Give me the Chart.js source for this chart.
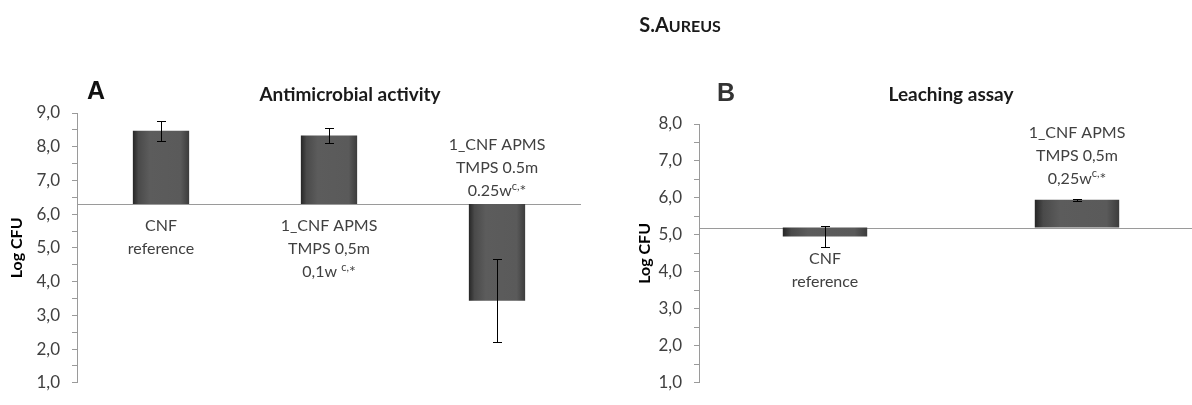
<!DOCTYPE html>
<html>
<head>
<meta charset="utf-8">
<script src="https://cdn.jsdelivr.net/npm/chart.js@4.4.1/dist/chart.umd.min.js"></script>
<style>
  body { margin: 0; width: 1192px; height: 405px; overflow: hidden; position: relative; background: #fff; font-family: Lato, "Open Sans", sans-serif; }
  canvas { position: absolute; top: 0; }
  .txt { position: absolute; white-space: nowrap; color: #1a1a1a; }
</style>
</head>
<body>
<canvas id="chartA" width="600" height="405" style="left:0"></canvas>
<canvas id="chartB" width="620" height="405" style="left:600px"></canvas>

<div class="txt" style="left:680px;top:12px;transform:translateX(-50%);font-weight:700;font-size:20px;">S.A<span style="font-size:16px">UREUS</span></div>
<div class="txt" style="left:87px;top:76px;font-family:'Liberation Sans',Arial,sans-serif;font-weight:700;font-size:25px;color:#111">A</div>
<div class="txt" style="left:717px;top:78px;font-family:'Liberation Sans',Arial,sans-serif;font-weight:700;font-size:25px;color:#333">B</div>
<div class="txt" style="left:350px;top:82px;transform:translateX(-50%);font-weight:700;font-size:19px;">Antimicrobial activity</div>
<div class="txt" style="left:951px;top:82px;transform:translateX(-50%);font-weight:700;font-size:19px;">Leaching assay</div>

<script>
// panel A - antimicrobial activity
const catsA = [
  ['CNF', 'reference'],
  ['1_CNF APMS', 'TMPS 0,5m', '0,1w {c,}*'],
  ['1_CNF APMS', 'TMPS 0.5m', '0.25w{c,}*']
];
const valuesA = [8.47, 8.33, 3.43];
const errorsA = [0.29, 0.22, 1.23];
const crossA = 6.3;

// panel B - leaching assay
const catsB = [
  ['CNF', 'reference'],
  ['1_CNF APMS', 'TMPS 0,5m', '0,25w{c,}*']
];
const valuesB = [4.96, 5.95];
const errorsB = [0.29, 0.03];
const crossB = 5.2;

const labelFont = '16px Lato';
const supFont = '11px Lato';
const textColor = '#404040';
const axisColor = '#9a9a9a';
const barPct = 0.335;

function barFill(c) {
  const chart = c.chart;
  const x = chart.scales.x;
  if (!x || c.dataIndex === undefined || !x.width) return '#595959';
  const cx = x.getPixelForValue(c.dataIndex);
  const w = x.width / chart.data.labels.length * barPct;
  const g = chart.ctx.createLinearGradient(cx - w / 2, 0, cx + w / 2, 0);
  g.addColorStop(0, '#262626');
  g.addColorStop(0.1, '#4a4a4a');
  g.addColorStop(0.3, '#5c5c5c');
  g.addColorStop(0.85, '#5a5a5a');
  g.addColorStop(1, '#3c3c3c');
  return g;
}

function drawLines(ctx, lines, cx, firstY, lineH) {
  lines.forEach((line, k) => {
    const parts = [];
    line.split(/(\{[^}]*\})/).forEach(s => {
      if (!s) return;
      if (s[0] === '{') parts.push({ t: s.slice(1, -1), sup: true });
      else parts.push({ t: s, sup: false });
    });
    let total = 0;
    parts.forEach(p => {
      ctx.font = p.sup ? supFont : labelFont;
      p.w = ctx.measureText(p.t).width;
      total += p.w;
    });
    let x = cx - total / 2;
    const y = firstY + k * lineH;
    parts.forEach(p => {
      ctx.font = p.sup ? supFont : labelFont;
      ctx.fillText(p.t, x, p.sup ? y - 5 : y);
      x += p.w;
    });
  });
}

const overlay = {
  id: 'overlay',
  beforeDatasetsDraw(chart, args, opts) {
    const { ctx, chartArea, scales: { y } } = chart;
    const yc = Math.round(y.getPixelForValue(opts.cross)) + 0.5;
    ctx.save();
    ctx.strokeStyle = axisColor;
    ctx.lineWidth = 1;
    ctx.beginPath();
    ctx.moveTo(chartArea.left, yc);
    ctx.lineTo(chartArea.right, yc);
    ctx.stroke();
    ctx.restore();
  },
  afterDatasetsDraw(chart, args, opts) {
    const { ctx, scales: { y } } = chart;
    const meta = chart.getDatasetMeta(0);
    const data = chart.data.datasets[0].data;
    const yc = y.getPixelForValue(opts.cross);
    const lineH = 23;
    ctx.save();
    ctx.strokeStyle = '#000';
    ctx.lineWidth = 1;
    meta.data.forEach((bar, i) => {
      const v = data[i], e = opts.errors[i];
      const x = Math.round(bar.x) + 0.5;
      const t = Math.round(y.getPixelForValue(v + e)) + 0.5;
      const b = Math.round(y.getPixelForValue(v - e)) + 0.5;
      ctx.beginPath();
      ctx.moveTo(x, t); ctx.lineTo(x, b);
      ctx.moveTo(x - 4.5, t); ctx.lineTo(x + 4.5, t);
      ctx.moveTo(x - 4.5, b); ctx.lineTo(x + 4.5, b);
      ctx.stroke();
    });
    ctx.fillStyle = textColor;
    ctx.textAlign = 'left';
    ctx.textBaseline = 'middle';
    meta.data.forEach((bar, i) => {
      const lines = opts.cats[i];
      const v = data[i];
      const up = v >= opts.cross;
      let first;
      if (opts.mode === 'axis') {
        first = up ? yc + 22 : yc - 13 - (lines.length - 1) * lineH;
      } else {
        const yv = y.getPixelForValue(v);
        first = up ? yv - 21 - (lines.length - 1) * lineH : yv + 22;
      }
      drawLines(ctx, lines, bar.x, first, lineH);
    });
    ctx.restore();
  }
};

function fmt(v) {
  return Number.isInteger(v) ? v.toFixed(1).replace('.', ',') : '';
}

function makeChart(id, cats, values, errors, cross, yMax, mode, pad, axisW, titlePad) {
  return new Chart(document.getElementById(id), {
    type: 'bar',
    data: {
      labels: cats.map(c => c.join(' ')),
      datasets: [{
        data: values,
        base: cross,
        backgroundColor: barFill,
        borderWidth: 0,
        categoryPercentage: 1,
        barPercentage: barPct
      }]
    },
    options: {
      responsive: false,
      animation: false,
      events: [],
      layout: { padding: pad },
      plugins: {
        legend: { display: false },
        tooltip: { enabled: false },
        overlay: { cross: cross, errors: errors, cats: cats, mode: mode }
      },
      scales: {
        x: { display: false },
        y: {
          min: 1,
          max: yMax,
          afterFit: s => { s.width = axisW; },
          ticks: {
            stepSize: 0.5,
            autoSkip: false,
            padding: 12,
            color: textColor,
            font: { family: 'Lato', size: 17 },
            callback: fmt
          },
          grid: { drawOnChartArea: false, drawTicks: true, tickLength: 5, color: axisColor },
          border: { color: axisColor },
          title: {
            display: true,
            text: 'Log CFU',
            color: '#000',
            font: { family: 'Lato', size: 16, weight: 'bold' },
            padding: { top: titlePad, bottom: 0 }
          }
        }
      }
    },
    plugins: [overlay]
  });
}

makeChart('chartA', catsA, valuesA, errorsA, crossA, 9, 'axis',
  { left: 0, right: 19, top: 113, bottom: 18 }, 77, 7);
makeChart('chartB', catsB, valuesB, errorsB, crossB, 8, 'end',
  { left: 30, right: 17, top: 124, bottom: 8 }, 69, 5);
</script>
</body>
</html>
